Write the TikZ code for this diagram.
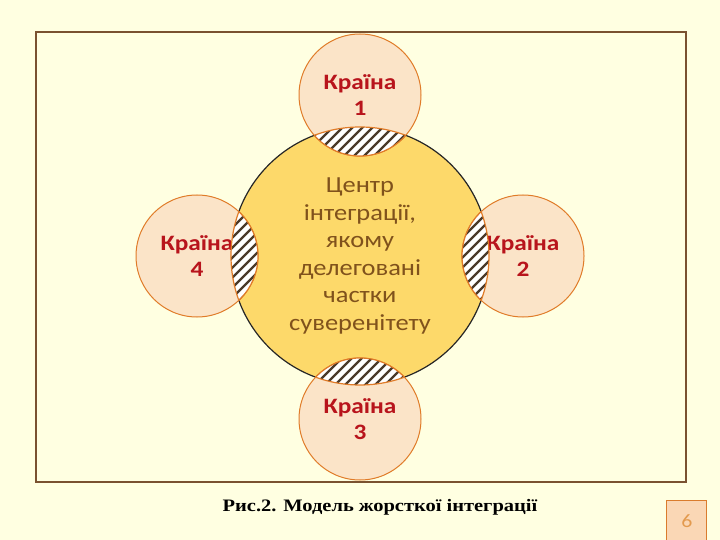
\documentclass[tikz,border=0pt]{standalone}
\usepackage{fontspec}
\setmainfont[FakeStretch=1.17]{Liberation Serif}
\newfontfamily\carlitofont[FakeStretch=1.15]{Carlito}
\definecolor{bg}{HTML}{FFFFE1}
\definecolor{frame}{HTML}{7A5230}
\definecolor{bigfill}{HTML}{FDD96A}
\definecolor{smallfill}{HTML}{FBE4C8}
\definecolor{orangeline}{HTML}{E07B28}
\definecolor{redtext}{HTML}{B8141C}
\definecolor{browntext}{HTML}{80521C}
\definecolor{hatch}{HTML}{4A3A2A}
\definecolor{pagefill}{HTML}{FAD7B5}
\definecolor{pagetext}{HTML}{E39A4E}
\tikzset{
  bigcirc/.style={circle, draw=black!85, line width=1.2pt, fill=bigfill, minimum size=258pt, inner sep=0pt,
    text=browntext, font=\carlitofont\fontsize{23}{27.5}\selectfont, align=center},
  country/.style={circle, draw=orangeline, line width=1pt, fill=smallfill, minimum size=122pt, inner sep=0pt,
    text=redtext, font=\carlitofont\bfseries\fontsize{22}{26}\selectfont, align=center},
  stripe/.style={hatch, line width=2.4pt},
}
\begin{document}
\begin{tikzpicture}[x=1pt,y=-1pt]
\useasboundingbox (0,0) rectangle (720,540);
\fill[bg] (0,0) rectangle (720,540);
\draw[frame, line width=1.2pt] (36,32) rectangle (686,482);
\node[bigcirc] (c0) at (360,256) {Центр\\інтеграції,\\якому\\делеговані\\частки\\суверенітету};
\node[country] (c1) at (360,95) {Країна\\1};
\node[country] (c2) at (523,256) {Країна\\2};
\node[country] (c3) at (360,419) {Країна\\3};
\node[country] (c4) at (197,256) {Країна\\4};
\foreach \c in {c1,c2,c3,c4}{
  \begin{scope}
    \clip (\c) circle[radius=61];
    \clip (c0) circle[radius=129];
    \fill[white] (\c) circle[radius=61];
    \foreach \k in {0,10,...,1300}{
      \draw[stripe] (\k,0) -- ++(-700,700);
    }
  \end{scope}
  \begin{scope}
    \clip (\c) circle[radius=61];
    \draw[orangeline, line width=1.2pt] (c0) circle[radius=129];
  \end{scope}
  \begin{scope}
    \clip (c0) circle[radius=129];
    \draw[orangeline, line width=1.2pt] (\c) circle[radius=61];
  \end{scope}
}
\node[font=\bfseries\fontsize{17.5}{20}\selectfont] (cap) at (380,507) {Рис.2. Модель жорсткої інтеграції};
\draw[orangeline!80!brown, line width=0.8pt, fill=pagefill] (666,500) rectangle (706,545);
\node[font=\carlitofont\fontsize{19}{22}\selectfont, text=pagetext] (pg) at (687,521) {6};
\end{tikzpicture}
\end{document}
